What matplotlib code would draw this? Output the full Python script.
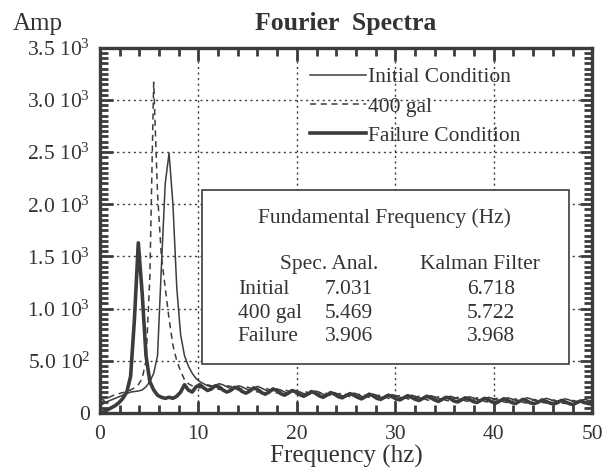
import matplotlib.pyplot as plt
import numpy as np
from matplotlib.ticker import MultipleLocator, FixedLocator

# %% data (0.390625 Hz bins, 0 - 50 Hz)
df = 0.390625
initial = [70, 90, 110, 125, 140, 155, 170, 185, 200, 205,
           210, 220, 250, 300, 380, 550, 1400, 2200, 2490, 2000,
           1200, 750, 550, 450, 380, 330,
           300, 280, 260, 250, 265, 280, 270, 250, 235, 245,
           260, 250, 230, 220, 235, 255, 240, 220, 205, 215,
           230, 220, 200, 190, 205, 215, 200, 185, 180, 195,
           210, 200, 180, 170, 185, 195, 180, 165, 160, 175,
           190, 180, 160, 150, 165, 180, 170, 150, 145, 160,
           175, 165, 150, 140, 155, 170, 160, 145, 135, 150,
           165, 155, 140, 130, 145, 160, 150, 135, 125, 140,
           155, 145, 130, 120, 135, 150, 140, 125, 120, 135,
           145, 135, 120, 115, 130, 145, 135, 120, 110, 125,
           140, 130, 115, 110, 125, 135, 125, 110, 105, 120,
           130, 120, 115]
gal400 = [150, 120, 140, 160, 175, 185, 195, 205, 220, 240,
          270, 330, 500, 1300, 3170, 2100, 1500, 1200, 900, 650,
          500, 400, 320, 280, 260, 250,
          240, 255, 270, 260, 240, 225, 240, 260, 255, 235,
          220, 230, 250, 240, 215, 200, 215, 235, 225, 200,
          190, 205, 220, 210, 190, 180, 195, 210, 195, 175,
          170, 190, 200, 185, 165, 160, 180, 195, 175, 155,
          150, 170, 185, 170, 150, 145, 160, 175, 160, 140,
          135, 155, 170, 155, 135, 130, 150, 160, 145, 125,
          120, 140, 155, 140, 120, 115, 135, 150, 135, 115,
          110, 130, 145, 130, 110, 105, 125, 140, 125, 105,
          100, 120, 135, 120, 100, 95, 115, 130, 115, 100,
          95, 110, 125, 110, 95, 90, 105, 120, 110, 95,
          90, 105, 115]
failure = [0, 10, 30, 50, 70, 100, 140, 200, 350, 900,
           1630, 1150, 550, 300, 220, 170, 150, 140, 150, 140,
           160, 200, 270, 220, 200, 250,
           270, 240, 215, 230, 260, 250, 220, 200, 215, 245,
           235, 205, 190, 210, 240, 225, 195, 180, 200, 230,
           215, 185, 170, 190, 215, 200, 175, 160, 180, 205,
           190, 165, 150, 170, 195, 180, 155, 145, 165, 185,
           170, 150, 135, 155, 180, 165, 140, 130, 150, 170,
           155, 135, 125, 145, 165, 150, 130, 120, 140, 160,
           145, 125, 110, 130, 150, 140, 115, 105, 125, 145,
           130, 110, 100, 120, 140, 125, 105, 95, 115, 135,
           120, 100, 90, 110, 130, 115, 95, 90, 105, 125,
           110, 95, 85, 100, 120, 105, 90, 80, 100, 115,
           100, 90, 85]
freq = np.arange(len(initial)) * df

rows = ['Initial', '400 gal', 'Failure']
spec_anal = ['7.031', '5.469', '3.906']
kalman = ['6.718', '5.722', '3.968']

ytick_vals = [0, 500, 1000, 1500, 2000, 2500, 3000, 3500]
ytick_labels = ['0', '5.0 10$^2$', '1.0 10$^3$', '1.5 10$^3$', '2.0 10$^3$',
                '2.5 10$^3$', '3.0 10$^3$', '3.5 10$^3$']

# %% style
plt.rcParams['font.family'] = ['Liberation Serif', 'DejaVu Serif']
plt.rcParams['mathtext.fontset'] = 'custom'
plt.rcParams['mathtext.rm'] = 'Liberation Serif'
plt.rcParams['mathtext.it'] = 'Liberation Serif:italic'
plt.rcParams['mathtext.bf'] = 'Liberation Serif:bold'
col = '#3c3c3c'
txt = '#333333'
fs = 15.5

fig = plt.figure(figsize=(6.05, 4.73), dpi=100)
ax = fig.add_axes([0.165, 0.127, 0.814, 0.772])

ax.plot(freq, initial, color=col, lw=1.1, label='Initial Condition', zorder=4)
ax.plot(freq, gal400, color=col, lw=1.1, ls=(0, (4, 3)), label='400 gal', zorder=4)
ax.plot(freq, failure, color=col, lw=2.6, label='Failure Condition', zorder=4)

ax.set_xlim(0, 50)
ax.set_ylim(0, 3500)
ax.xaxis.set_major_locator(MultipleLocator(10))
ax.xaxis.set_minor_locator(MultipleLocator(2))
ax.yaxis.set_major_locator(FixedLocator(ytick_vals))
ax.yaxis.set_minor_locator(MultipleLocator(50))
ax.set_yticklabels(ytick_labels)
ax.tick_params(which='both', direction='in', top=True, right=True, colors=col,
               labelcolor=txt, labelsize=fs, width=2)
ax.tick_params(which='major', length=9)
ax.tick_params(which='minor', length=6)
ax.tick_params(axis='x', pad=9)
ax.tick_params(axis='y', pad=7)
for s in ax.spines.values():
    s.set_linewidth(2.4)
    s.set_color(col)

ax.grid(True, which='major', ls=(0, (1.5, 2.5)), color=col, lw=1.0, zorder=1)

ax.set_xlabel('Frequency (hz)', fontsize=18, color=txt, labelpad=0)
fig.text(0.021, 0.937, 'Amp', fontsize=18, color=txt, ha='left', va='baseline')
ax.set_title('Fourier  Spectra', fontsize=18.5, fontweight='bold', color=txt, pad=13)

leg = ax.legend(loc='upper left', bbox_to_anchor=(0.41, 0.97), frameon=False,
                fontsize=fs, handlelength=2.6, handletextpad=0.1, labelspacing=0.42,
                borderaxespad=0)
for t in leg.get_texts():
    t.set_color(txt)

# inset table box
box = plt.Rectangle((10.4, 470), 37.2, 1670, facecolor='white', edgecolor=col,
                    lw=1.2, zorder=3)
ax.add_patch(box)
ax.text(28.9, 1870, 'Fundamental Frequency (Hz)', ha='center', va='center',
        fontsize=fs, color=txt, zorder=5)
ax.text(23.3, 1420, 'Spec. Anal.', ha='center', va='center', fontsize=fs,
        color=txt, zorder=5)
ax.text(38.6, 1420, 'Kalman Filter', ha='center', va='center', fontsize=fs,
        color=txt, zorder=5)
row_y = [1180, 955, 730]
for n in range(len(rows)):
    ax.text(14.0, row_y[n], rows[n], ha='left', va='center', fontsize=fs,
            color=txt, zorder=5)
    ax.text(25.3, row_y[n], spec_anal[n], ha='center', va='center', fontsize=fs,
            color=txt, zorder=5)
    ax.text(39.7, row_y[n], kalman[n], ha='center', va='center', fontsize=fs,
            color=txt, zorder=5)

fig.savefig('out.png', dpi=100)
